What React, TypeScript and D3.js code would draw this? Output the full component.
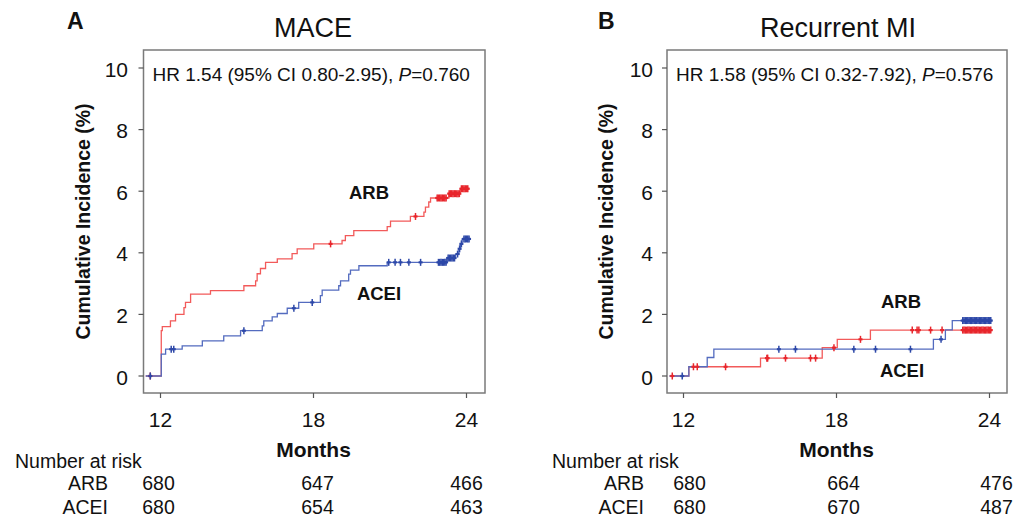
import React from 'react';
import * as d3 from 'd3';

type Pt = [number, number];

const xTicks = [12, 18, 24];
const yTicks = [0, 2, 4, 6, 8, 10];
const riskTimes = [12, 18, 24];
const groups = ['ARB', 'ACEI'];

// Panel A: MACE
const maceArbSteps: Pt[] = [
  [11.42, 0], [12.03, 1.47], [12.07, 1.6], [12.39, 1.79], [12.59, 2.0], [12.92, 2.22], [12.98, 2.39],
  [13.18, 2.66], [13.96, 2.77], [15.27, 2.93], [15.73, 3.09], [15.79, 3.32], [15.92, 3.49], [16.12, 3.69],
  [16.58, 3.8], [17.16, 3.97], [17.36, 4.13], [18.01, 4.29], [19.12, 4.4], [19.25, 4.56], [19.58, 4.72],
  [20.89, 4.85], [21.02, 5.03], [21.8, 5.18], [22.33, 5.32], [22.39, 5.48], [22.52, 5.65], [22.59, 5.78],
  [23.31, 5.92], [23.76, 6.08], [24.09, 6.08],
];
const maceAceiSteps: Pt[] = [
  [11.42, 0], [12.03, 0.71], [12.2, 0.87], [12.85, 0.98], [13.64, 1.14], [14.48, 1.3], [15.14, 1.47],
  [15.99, 1.63], [16.05, 1.79], [16.38, 1.92], [16.58, 2.03], [16.97, 2.2], [17.42, 2.39], [18.27, 2.61],
  [18.34, 2.79], [18.99, 2.93], [19.06, 3.09], [19.38, 3.31], [19.45, 3.44], [19.78, 3.58], [20.89, 3.69],
  [23.24, 3.83], [23.57, 3.96], [23.7, 4.13], [23.76, 4.29], [23.83, 4.45], [24.16, 4.45],
];
const maceArbCensor = [
  11.6, 18.67, 22.0,
  22.85, 22.9, 22.95, 23.0, 23.05, 23.1, 23.15, 23.2,
  23.32, 23.37, 23.42, 23.47, 23.52, 23.57, 23.62, 23.67, 23.72,
  23.8, 23.85, 23.9, 23.95, 24.0, 24.05,
];
const maceAceiCensor = [
  11.6, 12.42, 12.52, 15.27, 17.23, 17.95, 20.95, 21.2, 21.41, 21.74, 22.2,
  22.9, 22.95, 23.0, 23.05, 23.1, 23.15, 23.2,
  23.28, 23.33, 23.38, 23.43, 23.48, 23.53,
  23.65, 23.73, 23.8, 23.9, 23.95, 24.0, 24.05, 24.1,
];
const maceArbRisk = [680, 647, 466];
const maceAceiRisk = [680, 654, 463];

// Panel B: Recurrent MI
const miArbSteps: Pt[] = [
  [11.45, 0], [12.21, 0.3], [15.02, 0.58], [17.44, 0.92], [18.03, 1.19], [19.33, 1.49], [24.1, 1.49],
];
const miAceiSteps: Pt[] = [
  [11.45, 0], [12.21, 0.3], [12.93, 0.6], [13.19, 0.87], [21.8, 1.19], [22.27, 1.5], [22.54, 1.8], [24.1, 1.8],
];
const miArbCensor = [
  11.56, 12.39, 12.54, 13.65, 15.27, 15.3, 16.0, 16.98, 17.18, 17.9, 18.94,
  20.97, 21.16, 21.23, 21.69, 22.14,
  22.95, 23.0, 23.05, 23.1, 23.15, 23.2, 23.25, 23.3, 23.35, 23.4, 23.45, 23.5,
  23.55, 23.6, 23.65, 23.7, 23.75, 23.8, 23.85, 23.9, 23.95, 24.0, 24.05,
];
const miAceiCensor = [
  11.95, 15.74, 16.39, 18.68, 19.53, 20.9, 22.1,
  22.95, 23.0, 23.05, 23.1, 23.15, 23.2, 23.25, 23.3, 23.35, 23.4, 23.45, 23.5,
  23.55, 23.6, 23.65, 23.7, 23.75, 23.8, 23.85, 23.9, 23.95, 24.0, 24.05,
];
const miArbRisk = [680, 664, 476];
const miAceiRisk = [680, 670, 487];

const RED_LINE = '#f25a5a';
const RED_MARK = '#e8262c';
const BLUE_LINE = '#536bbf';
const BLUE_MARK = '#2d48a8';
const FONT = '"Liberation Sans", Arial, sans-serif';
const TXT = '#111';

interface PanelProps {
  letter: string;
  title: string;
  hr: string;
  pval: string;
  boxL: number;
  boxR: number;
  x12: number;
  x24: number;
  titleX: number;
  letterX: number;
  yLabelX: number;
  tickLabelR: number;
  arbSteps: Pt[];
  aceiSteps: Pt[];
  arbCensor: number[];
  aceiCensor: number[];
  arbRisk: number[];
  aceiRisk: number[];
  riskOffsets: number[];
  riskLabelStart: number;
  rowLabelR: number;
  arbLabel: [number, number];
  aceiLabel: [number, number];
}

const BOX_T = 50;
const BOX_B = 393;

function stepValue(steps: Pt[], t: number): number {
  const i = d3.bisector((d: Pt) => d[0]).right(steps, t) - 1;
  return steps[Math.max(0, i)][1];
}

function Panel(p: PanelProps) {
  const x = d3.scaleLinear().domain([12, 24]).range([p.x12, p.x24]);
  const y = d3.scaleLinear().domain([0, 10]).range([376, 68]);
  const line = d3
    .line<Pt>()
    .x((d) => x(d[0]))
    .y((d) => y(d[1]))
    .curve(d3.curveStepAfter);

  const censorMarks = (times: number[], steps: Pt[], color: string, key: string) =>
    times.map((t, i) => {
      const cx = x(t);
      const cy = y(stepValue(steps, t));
      return (
        <g key={key + i}>
          <line x1={cx} x2={cx} y1={cy - 3.5} y2={cy + 3.5} stroke={color} strokeWidth={1.5} />
          <line x1={cx - 2} x2={cx + 2} y1={cy} y2={cy} stroke={color} strokeWidth={2.2} />
        </g>
      );
    });

  const yMid = (BOX_T + BOX_B) / 2;

  return (
    <g fontFamily={FONT} fill={TXT}>
      <text x={p.letterX} y={29} fontSize={23} fontWeight="bold">{p.letter}</text>
      <text x={p.titleX} y={37} fontSize={27} textAnchor="middle">{p.title}</text>

      {/* frame */}
      <rect x={p.boxL} y={BOX_T} width={p.boxR - p.boxL} height={BOX_B - BOX_T} fill="none" stroke="#7a7a7a" strokeWidth={1.5} />

      {/* y ticks */}
      {yTicks.map((t) => (
        <g key={'yt' + t}>
          <line x1={p.boxL - 5} x2={p.boxL} y1={y(t)} y2={y(t)} stroke="#555" strokeWidth={1.2} />
          <text x={p.tickLabelR} y={y(t) + 8.5} fontSize={21} textAnchor="end">{t}</text>
        </g>
      ))}
      {/* x ticks */}
      {xTicks.map((t) => (
        <g key={'xt' + t}>
          <line x1={x(t)} x2={x(t)} y1={BOX_B} y2={BOX_B + 5} stroke="#555" strokeWidth={1.2} />
          <text x={x(t)} y={427} fontSize={21} textAnchor="middle">{t}</text>
        </g>
      ))}

      <text x={(p.x12 + p.x24) / 2} y={457} fontSize={21} fontWeight="bold" textAnchor="middle">Months</text>
      <text
        transform={`translate(${p.yLabelX},${yMid}) rotate(-90)`}
        fontSize={19.5}
        fontWeight="bold"
        textAnchor="middle"
        dominantBaseline="middle"
      >
        Cumulative Incidence (%)
      </text>

      <text x={p.boxL + 9} y={81} fontSize={19}>
        {p.hr}
        <tspan fontStyle="italic">P</tspan>
        {'=' + p.pval}
      </text>

      {/* curves */}
      <path d={line(p.arbSteps) || ''} fill="none" stroke={RED_LINE} strokeWidth={1.3} />
      <path d={line(p.aceiSteps) || ''} fill="none" stroke={BLUE_LINE} strokeWidth={1.3} />
      {censorMarks(p.arbCensor, p.arbSteps, RED_MARK, 'rc')}
      {censorMarks(p.aceiCensor, p.aceiSteps, BLUE_MARK, 'bc')}

      <text x={p.arbLabel[0]} y={p.arbLabel[1]} fontSize={18.5} fontWeight="bold" textAnchor="middle" dominantBaseline="middle">ARB</text>
      <text x={p.aceiLabel[0]} y={p.aceiLabel[1]} fontSize={18.5} fontWeight="bold" textAnchor="middle" dominantBaseline="middle">ACEI</text>

      {/* number at risk */}
      <text x={p.riskLabelStart} y={468} fontSize={19.5}>Number at risk</text>
      {[p.arbRisk, p.aceiRisk].map((row, ri) => (
        <g key={'row' + ri}>
          <text x={p.rowLabelR} y={490 + ri * 24} fontSize={19.5} textAnchor="end">{groups[ri]}</text>
          {row.map((v, i) => (
            <text key={i} x={x(riskTimes[i]) + p.riskOffsets[i]} y={490 + ri * 24} fontSize={19.5} textAnchor="middle">{v}</text>
          ))}
        </g>
      ))}
    </g>
  );
}

export default function App() {
  return (
    <svg
      width={1029}
      height={518}
      viewBox="0 0 1029 518"
      style={{ position: 'absolute', left: 0, top: 0, background: '#fff' }}
    >
      <rect width={1029} height={518} fill="#fff" />
      <Panel
        letter="A"
        title="MACE"
        hr="HR 1.54 (95% CI 0.80-2.95),  "
        pval="0.760"
        boxL={143.5}
        boxR={485}
        x12={160.5}
        x24={466.5}
        titleX={313}
        letterX={67}
        yLabelX={85}
        tickLabelR={128}
        arbSteps={maceArbSteps}
        aceiSteps={maceAceiSteps}
        arbCensor={maceArbCensor}
        aceiCensor={maceAceiCensor}
        arbRisk={maceArbRisk}
        aceiRisk={maceAceiRisk}
        riskOffsets={[-2, 4, 0]}
        riskLabelStart={15}
        rowLabelR={108}
        arbLabel={[369, 194.5]}
        aceiLabel={[379, 295]}
      />
      <Panel
        letter="B"
        title="Recurrent MI"
        hr="HR 1.58 (95% CI 0.32-7.92),  "
        pval="0.576"
        boxL={667}
        boxR={1007}
        x12={683.5}
        x24={989.5}
        titleX={838}
        letterX={598}
        yLabelX={608}
        tickLabelR={653}
        arbSteps={miArbSteps}
        aceiSteps={miAceiSteps}
        arbCensor={miArbCensor}
        aceiCensor={miAceiCensor}
        arbRisk={miArbRisk}
        aceiRisk={miAceiRisk}
        riskOffsets={[6, 7, 7]}
        riskLabelStart={552}
        rowLabelR={644}
        arbLabel={[901, 303.5]}
        aceiLabel={[902, 372]}
      />
    </svg>
  );
}
